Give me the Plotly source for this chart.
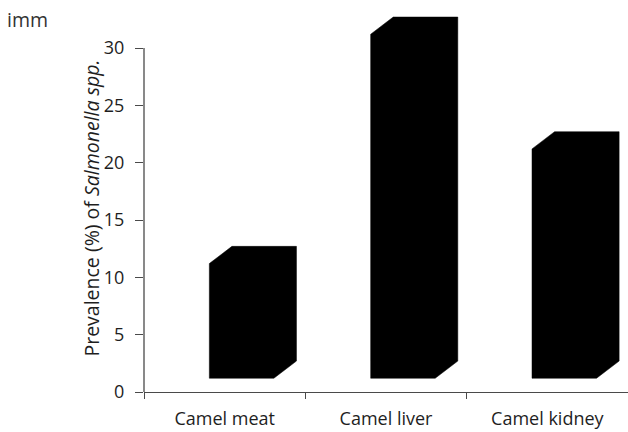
import plotly.graph_objects as go

# Prevalence of Salmonella spp. by sample type
categories = ["Camel meat", "Camel liver", "Camel kidney"]
prevalence = [10, 30, 20]
y_ticks = [0, 5, 10, 15, 20, 25, 30]

# pseudo-3D column geometry (category units / value units)
FRONT_LEFT = -0.095
FRONT_RIGHT = 0.305
DEPTH_X = 0.14
DEPTH_Y = 1.5
FLOOR = 1.2

AXIS_COLOR = "#4a4a4a"
TEXT_COLOR = "#1e1e1e"
FONT = "Open Sans"

fig = go.Figure()

for i, (name, v) in enumerate(zip(categories, prevalence)):
    x0 = i + FRONT_LEFT
    x1 = i + FRONT_RIGHT
    xs = [x0, x1, x1 + DEPTH_X, x1 + DEPTH_X, x0 + DEPTH_X, x0, x0]
    ys = [FLOOR, FLOOR, FLOOR + DEPTH_Y, FLOOR + v + DEPTH_Y,
          FLOOR + v + DEPTH_Y, FLOOR + v, FLOOR]
    fig.add_trace(go.Scatter(
        x=xs, y=ys, mode="lines", fill="toself",
        fillcolor="black", line=dict(color="black", width=0.5),
        name=name, showlegend=False, hoverinfo="skip",
    ))

px_per_unit = 344 / 30
plot_h = 432 - 10 - 40
y_top = plot_h / px_per_unit

fig.update_layout(
    width=628, height=432,
    margin=dict(l=144, r=0, t=10, b=40),
    paper_bgcolor="white", plot_bgcolor="white",
    font=dict(family=FONT, size=18, color=TEXT_COLOR),
    xaxis=dict(
        range=[-0.5, 2.5],
        tickmode="array", tickvals=list(range(len(categories))),
        ticktext=categories, ticks="",
        showline=True, linecolor=AXIS_COLOR, linewidth=1.3,
        showgrid=False, zeroline=False,
        ticklabelstandoff=10,
        minor=dict(tickvals=[-0.5, 0.5, 1.5, 2.5], ticks="outside",
                   ticklen=6, tickcolor=AXIS_COLOR, tickwidth=1.3,
                   showgrid=False),
        fixedrange=True,
    ),
    yaxis=dict(
        range=[0, y_top],
        tickmode="array", tickvals=y_ticks,
        ticks="outside", ticklen=8, tickcolor=AXIS_COLOR, tickwidth=1.3,
        showline=False, showgrid=False, zeroline=False,
        ticklabelstandoff=7,
        fixedrange=True,
    ),
)

# vertical axis line spanning only the labelled range
fig.add_shape(type="line", xref="paper", yref="y",
              x0=0, x1=0, y0=0, y1=y_ticks[-1],
              line=dict(color=AXIS_COLOR, width=1.3))

fig.add_annotation(
    text="Prevalence (%) of <i>Salmonella spp.</i>",
    xref="paper", yref="y", x=(92 - 144) / 484, y=16,
    textangle=-90, showarrow=False, xanchor="center", yanchor="middle",
    font=dict(family=FONT, size=19.5, color=TEXT_COLOR),
)

fig.add_annotation(
    text="imm", xref="paper", yref="paper",
    x=(5 - 144) / 484, y=(392 - 20) / plot_h,
    showarrow=False, xanchor="left", yanchor="middle",
    font=dict(family=FONT, size=19.5, color="#333333"),
)

fig.write_html("out.html")
